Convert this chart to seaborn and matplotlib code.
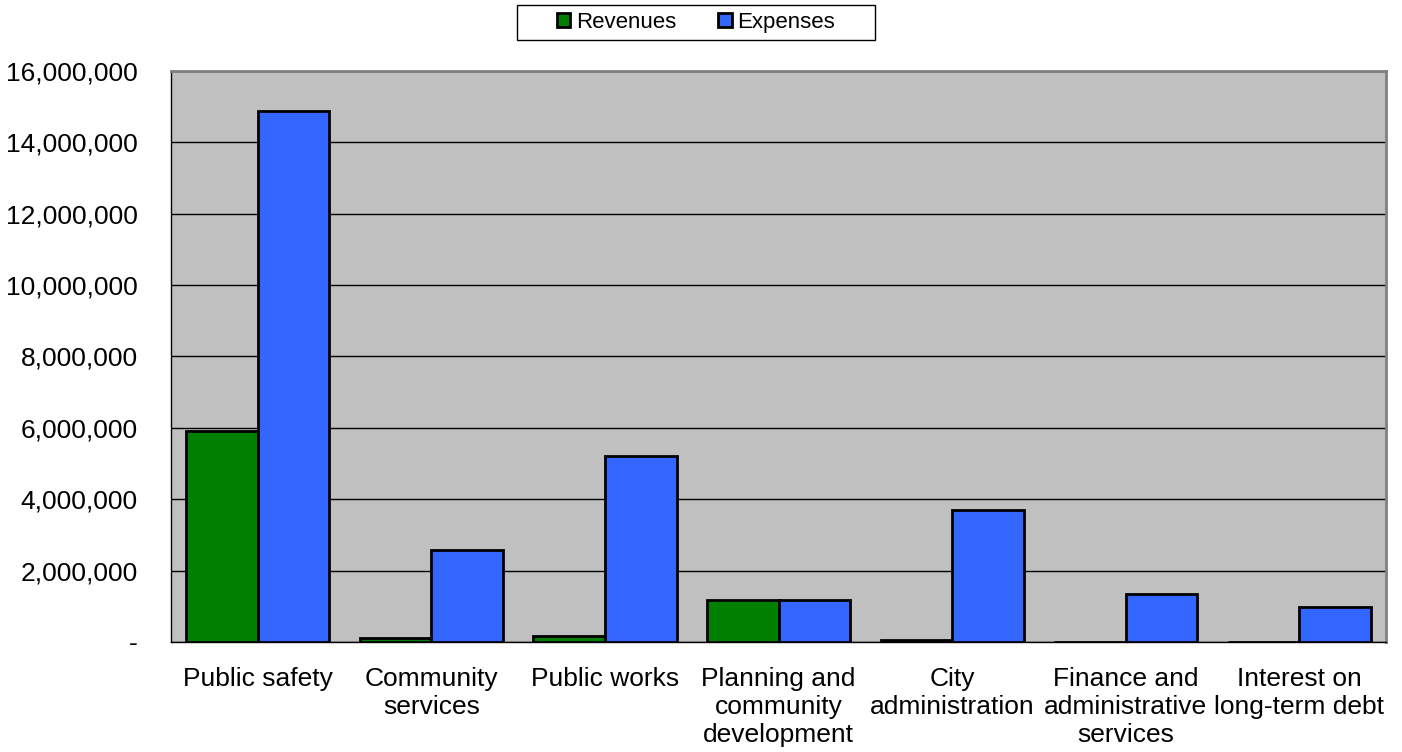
import pandas as pd
import seaborn as sns
import matplotlib.pyplot as plt
from matplotlib.patches import Rectangle
from matplotlib.ticker import FuncFormatter

categories = [
    "Public safety",
    "Community\nservices",
    "Public works",
    "Planning and\ncommunity\ndevelopment",
    "City\nadministration",
    "Finance and\nadministrative\nservices",
    "Interest on\nlong-term debt",
]
revenues = [5900000, 110000, 170000, 1180000, 50000, 0, 0]
expenses = [14870000, 2580000, 5210000, 1190000, 3700000, 1340000, 980000]

df = pd.DataFrame({
    "category": categories * 2,
    "kind": ["Revenues"] * len(categories) + ["Expenses"] * len(categories),
    "value": revenues + expenses,
})

sns.set_style("white")
plt.rcParams["font.family"] = ["Liberation Sans", "DejaVu Sans"]
plt.rcParams["text.color"] = "black"
plt.rcParams["xtick.color"] = "black"
plt.rcParams["ytick.color"] = "black"

fig = plt.figure(figsize=(14.02, 7.52), dpi=100)
ax = fig.add_axes([0.122, 0.1463, 0.8666, 0.7593])
ax.set_facecolor("#c0c0c0")

sns.barplot(
    data=df, x="category", y="value", hue="kind",
    palette={"Revenues": "#008000", "Expenses": "#3366ff"},
    width=0.825, edgecolor="black", linewidth=2, saturation=1,
    ax=ax, zorder=3,
)

ax.set_ylim(0, 16000000)
ax.set_xlim(-0.5, len(categories) - 0.5)
ax.set_yticks(range(0, 16000001, 2000000))
ax.yaxis.set_major_formatter(
    FuncFormatter(lambda v, p: "-" if v == 0 else f"{int(v):,}")
)
ax.grid(axis="y", color="#000000", linewidth=1, zorder=1)
ax.set_axisbelow(True)

# ticks at category boundaries
ax.set_xticks([i - 0.5 for i in range(len(categories) + 1)], minor=True)
ax.set_xticks(range(len(categories)))
ax.set_xticklabels(categories, fontsize=19, linespacing=1.2, color="black")
ax.tick_params(axis="x", which="major", length=0, pad=18)
ax.tick_params(axis="x", which="minor", length=6, width=1, color="black", direction="out")
ax.tick_params(axis="y", length=6, width=1, color="black", direction="out",
               labelsize=19, pad=18, labelcolor="black")
ax.set_xlabel("")
ax.set_ylabel("")

for s in ["top", "right"]:
    ax.spines[s].set_color("#808080")
    ax.spines[s].set_linewidth(2)
for s in ["left", "bottom"]:
    ax.spines[s].set_color("black")
    ax.spines[s].set_linewidth(1)

handles, labels = ax.get_legend_handles_labels()
leg = ax.legend(
    handles, labels, loc="center", bbox_to_anchor=(0.4964, 0.9701),
    bbox_transform=fig.transFigure, ncol=2, fontsize=16, frameon=False,
    handlelength=0.6, handleheight=0.6, handletextpad=0.25,
    columnspacing=1.9, borderpad=0.2,
)
for t in leg.get_texts():
    t.set_color("black")
fig.add_artist(Rectangle((0.3688, 0.9468), 0.2553, 0.0465, transform=fig.transFigure,
                         facecolor="none", edgecolor="black", linewidth=1))

fig.savefig("out.png", dpi=100)
